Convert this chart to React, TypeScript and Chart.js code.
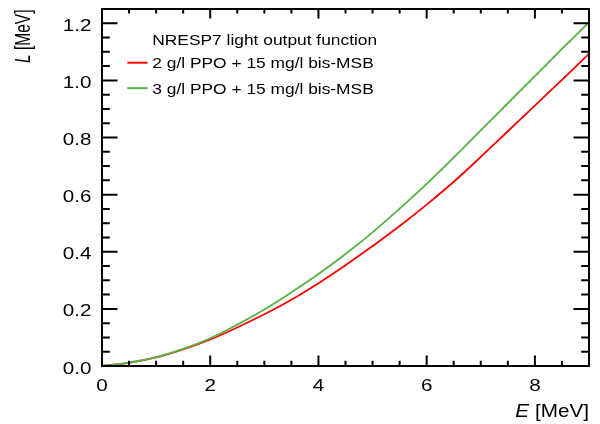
import React, { useEffect, useRef } from 'react';
import { Chart, registerables } from 'chart.js';

Chart.register(...registerables);

// ---- data ----
const energyMeV = [0, 0.5, 1, 1.5, 2, 2.5, 3, 3.5, 4, 4.5, 5, 5.5, 6, 6.5, 7, 7.5, 8, 8.5, 9];
const light2gPPO = [0, 0.011, 0.03, 0.058, 0.093, 0.135, 0.181, 0.232, 0.29, 0.353, 0.42, 0.49, 0.565, 0.645, 0.732, 0.822, 0.912, 1.002, 1.093];
const light3gPPO = [0, 0.012, 0.031, 0.06, 0.097, 0.145, 0.198, 0.258, 0.322, 0.392, 0.468, 0.551, 0.638, 0.73, 0.825, 0.92, 1.015, 1.11, 1.204];

const seriesLabels = ['2 g/l PPO + 15 mg/l bis-MSB', '3 g/l PPO + 15 mg/l bis-MSB'];
const seriesColors = ['#ff0000', '#55b244'];
const legendTitle = 'NRESP7 light output function';

const xTickValues = [0, 2, 4, 6, 8];
const yTickValues = [0, 0.2, 0.4, 0.6, 0.8, 1.0, 1.2];
const xRange = [0, 9];
const yRange = [0, 1.25];
const xMinorStep = 0.5;
const yMinorStep = 0.05;

const FONT = '"Liberation Sans", Arial, Helvetica, sans-serif';

type Part = { text: string; italic?: boolean };

function drawParts(ctx: CanvasRenderingContext2D, parts: Part[], size: number, sx: number, align: 'left' | 'right' | 'center') {
  let total = 0;
  const widths: number[] = [];
  for (const p of parts) {
    ctx.font = `${p.italic ? 'italic ' : ''}${size}px ${FONT}`;
    const w = ctx.measureText(p.text).width;
    widths.push(w);
    total += w;
  }
  let x0 = 0;
  if (align === 'right') x0 = -total * sx;
  else if (align === 'center') x0 = -total * sx / 2;
  ctx.save();
  ctx.translate(x0, 0);
  ctx.scale(sx, 1);
  ctx.textAlign = 'left';
  ctx.textBaseline = 'alphabetic';
  let off = 0;
  parts.forEach((p, i) => {
    ctx.font = `${p.italic ? 'italic ' : ''}${size}px ${FONT}`;
    ctx.fillText(p.text, off, 0);
    off += widths[i];
  });
  ctx.restore();
}

const frameAndTextPlugin = {
  id: 'rootStyleFrame',
  afterDatasetsDraw(chart: any) {
    const { ctx, chartArea: a, scales } = chart;
    const xs = scales.x;
    const ys = scales.y;
    ctx.save();
    ctx.fillStyle = '#000';
    ctx.strokeStyle = '#000';
    ctx.lineWidth = 2;
    ctx.lineCap = 'butt';

    // frame
    ctx.strokeRect(a.left, a.top, a.right - a.left, a.bottom - a.top);

    // x ticks (bottom and top), inward
    const nx = Math.round((xRange[1] - xRange[0]) / xMinorStep);
    for (let k = 0; k <= nx; k++) {
      const v = xRange[0] + k * xMinorStep;
      const major = xTickValues.some((t) => Math.abs(t - v) < 1e-9);
      const px = xs.getPixelForValue(v);
      const lb = major ? 10.5 : 5.3;
      const lt = major ? 9.5 : 4.6;
      ctx.beginPath();
      ctx.moveTo(px, a.bottom);
      ctx.lineTo(px, a.bottom - lb);
      ctx.moveTo(px, a.top);
      ctx.lineTo(px, a.top + lt);
      ctx.stroke();
    }
    // y ticks (left and right), inward
    const ny = Math.round((yRange[1] - yRange[0]) / yMinorStep);
    for (let k = 0; k <= ny; k++) {
      const v = yRange[0] + k * yMinorStep;
      const major = yTickValues.some((t) => Math.abs(t - v) < 1e-9);
      const py = ys.getPixelForValue(v);
      const l = major ? 15.5 : 7.8;
      ctx.beginPath();
      ctx.moveTo(a.left, py);
      ctx.lineTo(a.left + l, py);
      ctx.moveTo(a.right, py);
      ctx.lineTo(a.right - l, py);
      ctx.stroke();
    }

    // tick labels
    const tickSize = 16.5;
    const tickSx = 1.25;
    yTickValues.forEach((v) => {
      const py = ys.getPixelForValue(v);
      ctx.save();
      ctx.translate(a.left - 10.5, py + 7.6);
      drawParts(ctx, [{ text: v.toFixed(1) }], tickSize, tickSx, 'right');
      ctx.restore();
    });
    xTickValues.forEach((v) => {
      const px = xs.getPixelForValue(v);
      ctx.save();
      ctx.translate(px, a.bottom + 24.5);
      drawParts(ctx, [{ text: String(v) }], tickSize, tickSx, 'center');
      ctx.restore();
    });

    // axis titles
    ctx.save();
    ctx.translate(a.right, a.bottom + 51.3);
    drawParts(ctx, [{ text: 'E', italic: true }, { text: ' [MeV]' }], 18.5, 1.12, 'right');
    ctx.restore();

    ctx.save();
    ctx.translate(30, a.top + 0.5);
    ctx.rotate(-Math.PI / 2);
    ctx.scale(1, 1.45);
    drawParts(ctx, [{ text: 'L', italic: true }, { text: ' [MeV]' }], 15.5, 1, 'right');
    ctx.restore();

    // legend
    const legSize = 15.5;
    const legSx = 1.12;
    const textX = 152.3;
    ctx.save();
    ctx.translate(textX, 45.2);
    drawParts(ctx, [{ text: legendTitle }], legSize, legSx, 'left');
    ctx.restore();
    const rows = [62.7, 88.2];
    seriesLabels.forEach((lab, i) => {
      const y = rows[i];
      ctx.strokeStyle = seriesColors[i];
      ctx.lineWidth = 2;
      ctx.beginPath();
      ctx.moveTo(127.3, y);
      ctx.lineTo(147.5, y);
      ctx.stroke();
      ctx.save();
      ctx.translate(textX, y + 5.6);
      drawParts(ctx, [{ text: lab }], legSize, legSx, 'left');
      ctx.restore();
    });

    ctx.restore();
  },
};

export default function App() {
  const canvasRef = useRef<HTMLCanvasElement | null>(null);

  useEffect(() => {
    document.body.style.margin = '0';
    const canvas = canvasRef.current;
    if (!canvas) return;
    const chart = new Chart(canvas, {
      type: 'line',
      data: {
        datasets: [
          {
            label: seriesLabels[0],
            data: energyMeV.map((e, i) => ({ x: e, y: light2gPPO[i] })),
            borderColor: seriesColors[0],
            backgroundColor: seriesColors[0],
            borderWidth: 1.8,
            pointRadius: 0,
            tension: 0.4,
            order: 1,
          },
          {
            label: seriesLabels[1],
            data: energyMeV.map((e, i) => ({ x: e, y: light3gPPO[i] })),
            borderColor: seriesColors[1],
            backgroundColor: seriesColors[1],
            borderWidth: 1.8,
            pointRadius: 0,
            tension: 0.4,
            order: 0,
          },
        ],
      },
      options: {
        responsive: false,
        animation: false,
        devicePixelRatio: 1,
        layout: { padding: { left: 0, top: 9, right: 11, bottom: 0 } },
        plugins: {
          legend: { display: false },
          tooltip: { enabled: false },
          title: { display: false },
        },
        scales: {
          x: {
            type: 'linear',
            min: xRange[0],
            max: xRange[1],
            grid: { display: false, drawTicks: false },
            border: { display: false },
            ticks: { display: false },
            afterBuildTicks: (s: any) => {
              s.ticks = xTickValues.map((v) => ({ value: v }));
            },
            afterFit: (s: any) => {
              s.height = 58;
            },
          },
          y: {
            type: 'linear',
            min: yRange[0],
            max: yRange[1],
            grid: { display: false, drawTicks: false },
            border: { display: false },
            ticks: { display: false },
            afterBuildTicks: (s: any) => {
              s.ticks = yTickValues.map((v) => ({ value: v }));
            },
            afterFit: (s: any) => {
              s.width = 102;
            },
          },
        },
      } as any,
      plugins: [frameAndTextPlugin],
    });
    return () => chart.destroy();
  }, []);

  return (
    <div style={{ width: 600, height: 424, background: '#fff' }}>
      <canvas ref={canvasRef} width={600} height={424} />
    </div>
  );
}
